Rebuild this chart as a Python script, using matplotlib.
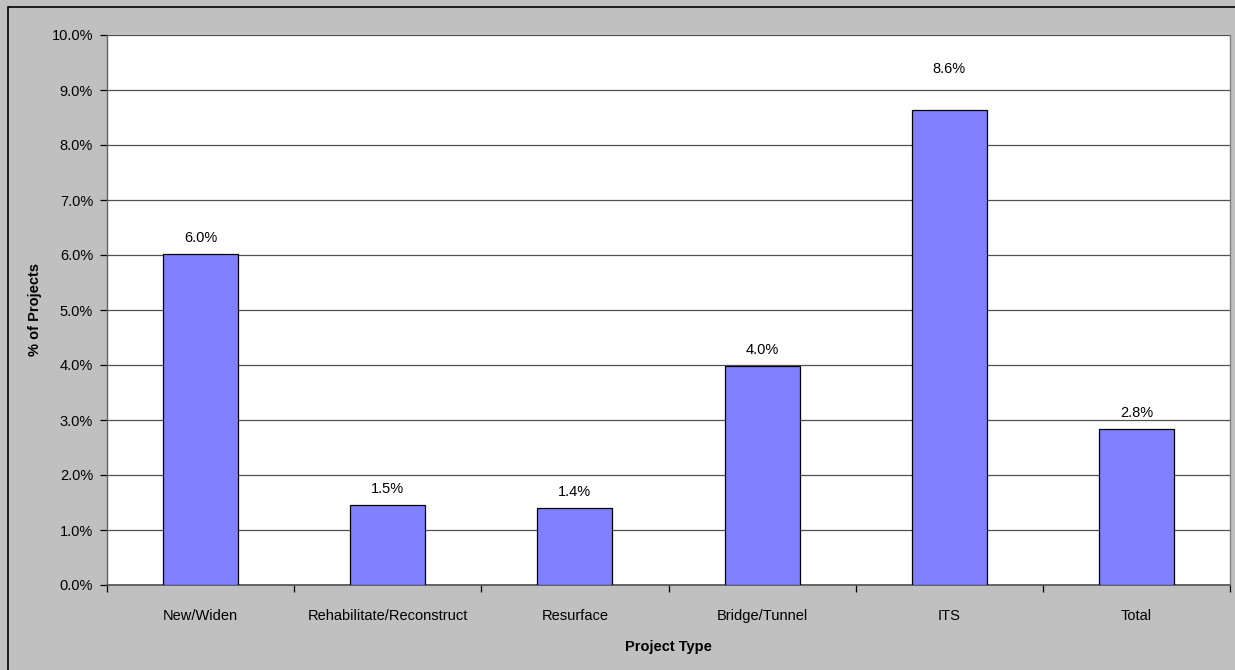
import matplotlib
matplotlib.use("Agg")
import matplotlib.pyplot as plt
from matplotlib.patches import Rectangle
from matplotlib.ticker import MultipleLocator, FuncFormatter, FixedLocator, NullFormatter

plt.rcParams['font.family'] = ['Liberation Sans', 'DejaVu Sans']

categories = ["New/Widen", "Rehabilitate/Reconstruct", "Resurface",
              "Bridge/Tunnel", "ITS", "Total"]
values = [6.02, 1.46, 1.40, 3.98, 8.64, 2.84]
labels = ["6.0%", "1.5%", "1.4%", "4.0%", "8.6%", "2.8%"]

W, H = 1235, 670
fig = plt.figure(figsize=(W / 100, H / 100), dpi=100)
fig.patch.set_facecolor("#C0C0C0")

# outer chart border (left and top edges fall inside the canvas)
fig.patches.append(Rectangle((8 / W, -0.05), 1.1, (H - 7) / H + 0.05,
                             transform=fig.transFigure, fill=False,
                             edgecolor="black", linewidth=1.2))

left, right, top, bottom = 107, 1230, 35, 585
ax = fig.add_axes([left / W, 1 - bottom / H, (right - left) / W, (bottom - top) / H])
ax.set_facecolor("white")

x = list(range(len(categories)))
ax.bar(x, values, width=0.4, color="#8080FF", edgecolor="black", linewidth=0.9, zorder=3)

ax.set_xlim(-0.5, len(categories) - 0.5)
ax.set_ylim(0, 10)
ax.yaxis.set_major_locator(MultipleLocator(1))
ax.yaxis.set_major_formatter(FuncFormatter(lambda v, p: f"{v:.1f}%"))
ax.grid(axis="y", color="#505050", linewidth=0.9, zorder=0)

ax.set_xticks(x)
ax.set_xticklabels(categories)
ax.xaxis.set_minor_locator(FixedLocator([i + 0.5 for i in range(-1, len(categories))]))
ax.xaxis.set_minor_formatter(NullFormatter())
ax.tick_params(axis="x", which="major", length=0, pad=17, labelsize=10.5, colors="black")
ax.tick_params(axis="x", which="minor", length=5, width=0.9, color="black")
ax.tick_params(axis="y", length=5, width=0.9, pad=5, labelsize=10.5, color="black")

ax.spines["top"].set_visible(False)
ax.spines["right"].set_color("#808080")
ax.spines["right"].set_linewidth(1.0)
ax.spines["left"].set_color("#606060")
ax.spines["bottom"].set_color("#505050")
ax.spines["left"].set_linewidth(1.0)
ax.spines["bottom"].set_linewidth(1.2)

for i, (v, t) in enumerate(zip(values, labels)):
    offset = 0.75 if categories[i] == "ITS" else 0.29
    ax.text(i, v + offset, t, ha="center", va="center", fontsize=10.5, zorder=4)

fig.text(35 / W, 1 - 310 / H, "% of Projects", rotation=90, ha="center", va="center",
         fontsize=10.5, fontweight="bold")
fig.text((left + right) / 2 / W, 1 - 647 / H, "Project Type", ha="center", va="center",
         fontsize=10.5, fontweight="bold")

fig.savefig("out.png", dpi=100, facecolor=fig.get_facecolor())
